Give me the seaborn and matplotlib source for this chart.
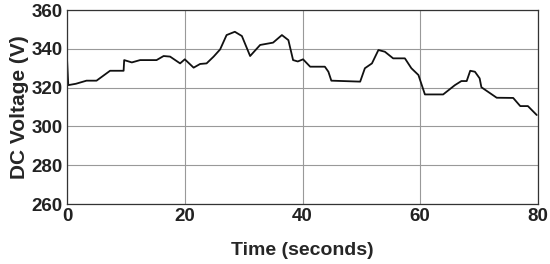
import matplotlib
matplotlib.use("Agg")
import matplotlib.pyplot as plt
import seaborn as sns

# values
time_s = [0.0, 0.2, 1.5, 3.3, 5.0, 7.3, 9.6, 9.7, 11.0, 12.4, 15.2, 16.4, 17.5,
          19.2, 20.0, 21.5, 22.6, 23.7, 24.9, 26.0, 27.1, 28.5, 29.7, 31.1, 32.8,
          35.0, 36.5, 37.6, 38.4, 39.2, 40.1, 41.3, 43.8, 44.4, 44.9, 49.8, 50.6,
          51.8, 52.9, 54.0, 55.4, 57.4, 58.5, 59.7, 60.8, 63.9, 65.9, 67.0, 67.9,
          68.5, 69.3, 70.1, 70.4, 73.0, 75.8, 77.0, 78.3, 79.8]
voltage = [334.0, 321.3, 322.0, 323.6, 323.6, 328.7, 328.7, 334.2, 333.0, 334.2,
           334.2, 336.3, 336.0, 332.5, 334.6, 330.3, 332.2, 332.5, 336.0, 339.7,
           347.1, 348.8, 346.6, 336.3, 342.0, 343.2, 347.1, 344.5, 334.2, 333.5,
           334.6, 330.8, 330.8, 328.2, 323.6, 323.1, 330.0, 332.5, 339.4, 338.5,
           335.1, 335.1, 330.0, 326.5, 316.5, 316.5, 321.3, 323.4, 323.4, 328.7,
           328.2, 324.8, 320.2, 314.8, 314.7, 310.5, 310.5, 305.9]
x_ticks = [0, 20, 40, 60, 80]
y_ticks = [260, 280, 300, 320, 340, 360]

sns.set_style("white")
plt.rcParams['font.family'] = ['Liberation Sans', 'DejaVu Sans']

fig = plt.figure(figsize=(5.5, 2.64), dpi=100)
ax = fig.add_axes([0.122, 0.227, 0.856, 0.735])
sns.lineplot(x=time_s, y=voltage, color="#111111", linewidth=1.3, ax=ax)

ax.set_xlim(0, 80)
ax.set_ylim(260, 360)
ax.set_xticks(x_ticks)
ax.set_yticks(y_ticks)
ax.grid(True, color="#999999", linewidth=0.8)
for s in ax.spines.values():
    s.set_color("#333333")
    s.set_linewidth(0.9)
ax.tick_params(direction="in", length=3, labelsize=13.5, pad=3, colors="#222222")
for lab in ax.get_xticklabels() + ax.get_yticklabels():
    lab.set_fontweight("bold")
ax.set_xlabel("Time (seconds)", fontsize=14, fontweight="bold", labelpad=12)
ax.set_ylabel("DC Voltage (V)", fontsize=15, fontweight="bold", labelpad=2)

fig.savefig("out.png", dpi=100)
